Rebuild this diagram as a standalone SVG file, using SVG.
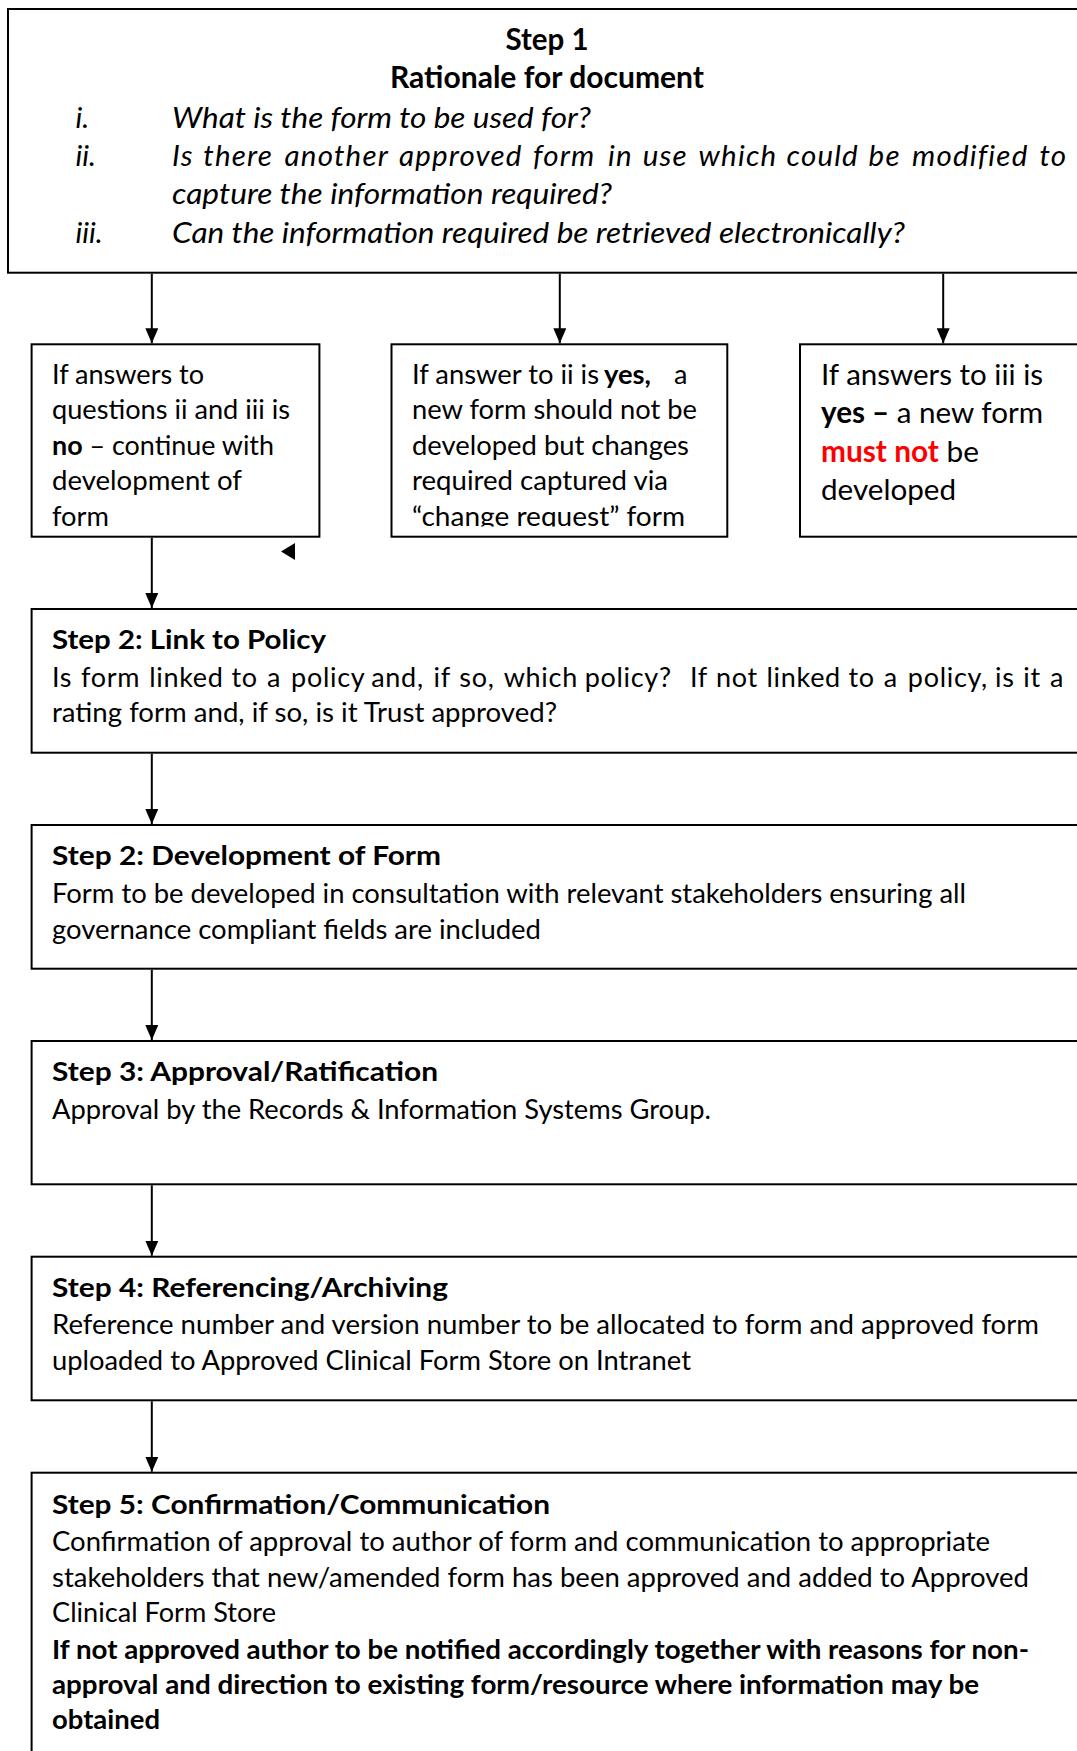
<svg xmlns="http://www.w3.org/2000/svg" width="1077" height="1751" viewBox="0 0 1077 1751">
<style>
.bg{fill:#fff}
.box{fill:#fff;stroke:#000;stroke-width:2}
.t{font-family:Lato,"Liberation Sans",sans-serif;font-size:27px;fill:#000}
.big{font-size:29.5px}
.b{font-weight:bold}
.i{font-style:italic}
.red{fill:#ff0000}
.js1{letter-spacing:1.2px}
.js2{letter-spacing:0.7px}
.conn{stroke:#000;stroke-width:2;fill:none;marker-end:url(#arr)}
</style>
<defs>
<marker id="arr" markerUnits="userSpaceOnUse" markerWidth="15" markerHeight="13" refX="15" refY="6.5" orient="auto">
<path d="M0,0 L15,6.5 L0,13 Z" fill="#000"/>
</marker>
<clipPath id="clipB"><rect x="392" y="345" width="335" height="181.5"/></clipPath>
</defs>
<rect class="bg" x="0" y="0" width="1077" height="1751"/>

<g id="step1">
<rect class="box" x="8" y="9" width="1090" height="263.7"/>
<text class="t big b" x="547" y="50" text-anchor="middle" textLength="83" lengthAdjust="spacingAndGlyphs">Step 1</text>
<text class="t big b" x="547" y="88.3" text-anchor="middle" textLength="314" lengthAdjust="spacingAndGlyphs">Rationale for document</text>
<text class="t big i" x="75.5" y="127.5">i.</text>
<text class="t big i" x="172" y="127.5" textLength="419" lengthAdjust="spacingAndGlyphs">What is the form to be used for?</text>
<text class="t big i" x="75.5" y="165.7">ii.</text>
<text class="t big i js1" y="165.7"><tspan x="172">Is</tspan> <tspan x="203.3">there</tspan> <tspan x="284.6">another</tspan> <tspan x="398.9">approved</tspan> <tspan x="533">form</tspan> <tspan x="607.9">in</tspan> <tspan x="642.7">use</tspan> <tspan x="698.6">which</tspan> <tspan x="786.6">could</tspan> <tspan x="868.6">be</tspan> <tspan x="912">modified</tspan> <tspan x="1039.5">to</tspan></text>
<text class="t big i" x="172" y="204" textLength="440" lengthAdjust="spacingAndGlyphs">capture the information required?</text>
<text class="t big i" x="75.5" y="242.5">iii.</text>
<text class="t big i" x="172" y="242.5" textLength="733" lengthAdjust="spacingAndGlyphs">Can the information required be retrieved electronically?</text>
</g>

<g id="optionA">
<rect class="box" x="31.6" y="344.3" width="287.8" height="192.4"/>
<text class="t" x="52" y="383.5" textLength="152" lengthAdjust="spacingAndGlyphs">If answers to</text>
<text class="t" x="52" y="419" textLength="238" lengthAdjust="spacingAndGlyphs">questions ii and iii is</text>
<text class="t" x="52" y="454.5" textLength="222" lengthAdjust="spacingAndGlyphs"><tspan class="b">no</tspan> – continue with</text>
<text class="t" x="52" y="490" textLength="190" lengthAdjust="spacingAndGlyphs">development of</text>
<text class="t" x="52" y="525.5" textLength="57" lengthAdjust="spacingAndGlyphs">form</text>
</g>

<g id="optionB">
<rect class="box" x="391.5" y="344.3" width="335.8" height="192.4"/>
<g clip-path="url(#clipB)">
<text class="t" x="412" y="383.5" textLength="187" lengthAdjust="spacingAndGlyphs">If answer to ii is</text>
<text class="t b" x="604" y="383.5" textLength="47" lengthAdjust="spacingAndGlyphs">yes,</text>
<text class="t" x="674" y="383.5">a</text>
<text class="t" x="412" y="419" textLength="285" lengthAdjust="spacingAndGlyphs">new form should not be</text>
<text class="t" x="412" y="454.5" textLength="277" lengthAdjust="spacingAndGlyphs">developed but changes</text>
<text class="t" x="412" y="490" textLength="256" lengthAdjust="spacingAndGlyphs">required captured via</text>
<text class="t" x="412" y="525.5" textLength="273" lengthAdjust="spacingAndGlyphs">“change request” form</text>
</g>
</g>

<g id="optionC">
<rect class="box" x="800" y="344.3" width="290" height="192.4"/>
<text class="t big" x="821" y="385" textLength="222" lengthAdjust="spacingAndGlyphs">If answers to iii is</text>
<text class="t big" x="821" y="423.3" textLength="222" lengthAdjust="spacingAndGlyphs"><tspan class="b">yes –</tspan> a new form</text>
<text class="t big" x="821" y="461.7" textLength="158" lengthAdjust="spacingAndGlyphs"><tspan class="b red">must not</tspan> be</text>
<text class="t big" x="821" y="500" textLength="135" lengthAdjust="spacingAndGlyphs">developed</text>
</g>

<g id="step2link">
<rect class="box" x="31.6" y="609" width="1060" height="143.7"/>
<text class="t b" x="52" y="648.5" textLength="274" lengthAdjust="spacingAndGlyphs">Step 2: Link to Policy</text>
<text class="t js2" y="686.5"><tspan x="52">Is</tspan> <tspan x="81">form</tspan> <tspan x="149.2">linked</tspan> <tspan x="231.5">to</tspan> <tspan x="266.9">a</tspan> <tspan x="291.1">policy</tspan> <tspan x="371.2">and,</tspan> <tspan x="433.5">if</tspan> <tspan x="459.3">so,</tspan> <tspan x="503.7">which</tspan> <tspan x="584.7">policy?</tspan> <tspan x="690">If</tspan> <tspan x="716">not</tspan> <tspan x="766.5">linked</tspan> <tspan x="848.5">to</tspan> <tspan x="883.8">a</tspan> <tspan x="907.8">policy,</tspan> <tspan x="995">is</tspan> <tspan x="1023.3">it</tspan> <tspan x="1050">a</tspan></text>
<text class="t" x="52" y="722" textLength="505" lengthAdjust="spacingAndGlyphs">rating form and, if so, is it Trust approved?</text>
</g>

<g id="step2dev">
<rect class="box" x="31.6" y="825" width="1060" height="143.7"/>
<text class="t b" x="52" y="865" textLength="389" lengthAdjust="spacingAndGlyphs">Step 2: Development of Form</text>
<text class="t" x="52" y="902.7" textLength="914" lengthAdjust="spacingAndGlyphs">Form to be developed in consultation with relevant stakeholders ensuring all</text>
<text class="t" x="52" y="938.5" textLength="489" lengthAdjust="spacingAndGlyphs">governance compliant fields are included</text>
</g>

<g id="step3">
<rect class="box" x="31.6" y="1041" width="1060" height="143.3"/>
<text class="t b" x="52" y="1081" textLength="386" lengthAdjust="spacingAndGlyphs">Step 3: Approval/Ratification</text>
<text class="t" x="52" y="1118.5" textLength="659" lengthAdjust="spacingAndGlyphs">Approval by the Records &amp; Information Systems Group.</text>
</g>

<g id="step4">
<rect class="box" x="31.6" y="1256.7" width="1060" height="143.6"/>
<text class="t b" x="52" y="1296.7" textLength="396" lengthAdjust="spacingAndGlyphs">Step 4: Referencing/Archiving</text>
<text class="t" x="52" y="1334" textLength="987" lengthAdjust="spacingAndGlyphs">Reference number and version number to be allocated to form and approved form</text>
<text class="t" x="52" y="1370" textLength="639" lengthAdjust="spacingAndGlyphs">uploaded to Approved Clinical Form Store on Intranet</text>
</g>

<g id="step5">
<rect class="box" x="31.6" y="1472.7" width="1060" height="320"/>
<text class="t b" x="52" y="1513.5" textLength="498" lengthAdjust="spacingAndGlyphs">Step 5: Confirmation/Communication</text>
<text class="t" x="52" y="1550.5" textLength="938" lengthAdjust="spacingAndGlyphs">Confirmation of approval to author of form and communication to appropriate</text>
<text class="t" x="52" y="1586.5" textLength="977" lengthAdjust="spacingAndGlyphs">stakeholders that new/amended form has been approved and added to Approved</text>
<text class="t" x="52" y="1622.3" textLength="224" lengthAdjust="spacingAndGlyphs">Clinical Form Store</text>
<text class="t b" x="52" y="1658.7" textLength="977" lengthAdjust="spacingAndGlyphs">If not approved author to be notified accordingly together with reasons for non-</text>
<text class="t b" x="52" y="1694" textLength="927" lengthAdjust="spacingAndGlyphs">approval and direction to existing form/resource where information may be</text>
<text class="t b" x="52" y="1729.3" textLength="108" lengthAdjust="spacingAndGlyphs">obtained</text>
</g>

<g id="connectors">
<line class="conn" x1="151.8" y1="273.7" x2="151.8" y2="343.3"/>
<line class="conn" x1="559.8" y1="273.7" x2="559.8" y2="343.3"/>
<line class="conn" x1="943.2" y1="273.7" x2="943.2" y2="343.3"/>
<line class="conn" x1="151.8" y1="537.7" x2="151.8" y2="608"/>
<line class="conn" x1="151.8" y1="753.7" x2="151.8" y2="824"/>
<line class="conn" x1="151.8" y1="969.7" x2="151.8" y2="1040"/>
<line class="conn" x1="151.8" y1="1185.3" x2="151.8" y2="1255.7"/>
<line class="conn" x1="151.8" y1="1401.3" x2="151.8" y2="1471.7"/>
<path d="M281,551.5 L295,543 L295,560 Z" fill="#000"/>
</g>
</svg>
